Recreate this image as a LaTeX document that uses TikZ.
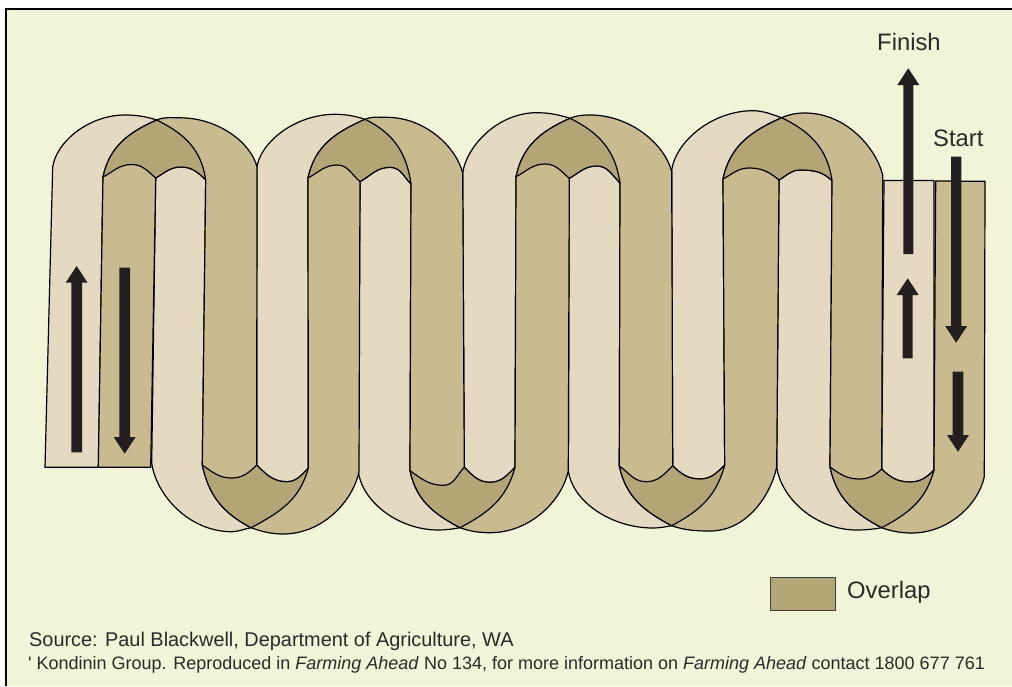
\documentclass[tikz,border=0pt]{standalone}
\usepackage{fontspec}
\setmainfont{Liberation Sans}
\newfontfamily\plainf{Liberation Sans}
\definecolor{bgc}{HTML}{F1F4D6}
\definecolor{lightb}{HTML}{E3DAC1}
\definecolor{darkb}{HTML}{C9BB8F}
\definecolor{overl}{HTML}{B4A576}
\definecolor{arrowc}{HTML}{231F20}
\definecolor{txt}{HTML}{2A2A2A}
\tikzset{
  band/.style={draw=black,line width=1.2pt,line join=round},
  arrowbody/.style={fill=arrowc,draw=none},
  lab/.style={text=txt,inner sep=0pt,anchor=base west},
  q1/.style={out looseness=0.72,in looseness=1.05},
  q2/.style={out looseness=1.05,in looseness=0.72},
  bq1/.style={out looseness=0.8,in looseness=1.02},
  bq2/.style={out looseness=1.02,in looseness=0.8},
  s1/.style={looseness=1.02},
}
% top arch segments
\def\TLO#1{to[out=82,in=180,q1] (t#1b) to[out=0,in=162,looseness=.9] (t#1x) to[out=-26,in=98,s1] (t#1c)}
\def\TDa#1{to[out=78,in=204,s1] (t#1x)}
\def\TLb#1{to[out=-26,in=98,s1] (t#1c)}
\def\TDb#1{to[out=24,in=180,looseness=.9] (t#1e) to[out=0,in=104,q2] (t#1f)}
\def\TLIr#1{to[out=140,in=0] (t#1g) to[out=180,in=28] (t#1d)}
\def\TDIr#1{to[out=135,in=0] (t#1i) to[out=180,in=30] (t#1h)}
% bottom arch segments
\def\BLOr#1{to[out=-105,in=28,s1] (b#1x) to[out=190,in=0,looseness=.9] (b#1b) to[out=180,in=-82,bq2] (b#1a)}
\def\BDa#1{to[out=-78,in=152,s1] (b#1x)}
\def\BLb#1{to[out=28,in=-105,s1] (b#1c)}
\def\BDr#1{to[out=-102,in=0,bq1] (b#1e) to[out=180,in=-20,looseness=.9] (b#1x) to[out=152,in=-78,s1] (b#1d)}
\def\BLI#1{to[out=-35,in=180] (b#1g) to[out=0,in=-135] (b#1h)}
\def\BDI#1{to[out=-45,in=180] (b#1i) to[out=0,in=-135] (b#1c)}
\def\BDIr#1{to[out=-135,in=0] (b#1i) to[out=180,in=-45] (b#1h)}
\def\BLIr#1{to[out=-135,in=0] (b#1g) to[out=180,in=-35] (b#1d)}
\newcommand\upArrow[6]{% xl xr ybottom ybase ytip hw
  \fill[arrowbody] (#1,#3) -- (#1,#4) -- ({(#1+#2)/2-#6},#4) -- ({(#1+#2)/2},#5) -- ({(#1+#2)/2+#6},#4) -- (#2,#4) -- (#2,#3) -- cycle;}
\begin{document}
\begin{tikzpicture}[x=1pt,y=-1pt]
\useasboundingbox (0,0) rectangle (1012,686);
\fill[white] (0,0) rectangle (1012,686);
\fill[bgc] (6,9) rectangle (1012,686);
\draw[black,line width=2.4pt] (6,686) -- (6,9) -- (1012,9);
% strip ends
\coordinate (s1) at (45,467.3); \coordinate (s2) at (98.3,467.3); \coordinate (s3) at (150.7,467.3);
\coordinate (e1) at (884,180.5); \coordinate (e2) at (934,180.5); \coordinate (e3) at (935.7,181); \coordinate (e4) at (985,181.3);
% top arches
\coordinate (t1a) at (52.7,167); \coordinate (t1b) at (125,115); \coordinate (t1x) at (156.7,120); \coordinate (t1c) at (205.7,180);
\coordinate (t1d) at (103,177); \coordinate (t1e) at (180,117.8); \coordinate (t1f) at (257,167);
\coordinate (t1g) at (131.7,164.5); \coordinate (t1h) at (155.7,178); \coordinate (t1i) at (181,167);
\coordinate (t2a) at (256.7,168); \coordinate (t2b) at (335,114.3); \coordinate (t2x) at (365,119.3); \coordinate (t2c) at (411,184);
\coordinate (t2d) at (308,178); \coordinate (t2e) at (386.7,117.3); \coordinate (t2f) at (462.7,173);
\coordinate (t2g) at (337,165); \coordinate (t2h) at (360,181.7); \coordinate (t2i) at (390,167.3);
\coordinate (t3a) at (462.7,173); \coordinate (t3b) at (536.7,112.7); \coordinate (t3x) at (570,118.3); \coordinate (t3c) at (620,183);
\coordinate (t3d) at (516,176.7); \coordinate (t3e) at (590,115); \coordinate (t3f) at (671.7,171.7);
\coordinate (t3g) at (545,164); \coordinate (t3h) at (569.3,178.3); \coordinate (t3i) at (596.7,166);
\coordinate (t4a) at (671.7,170); \coordinate (t4b) at (753,110.7); \coordinate (t4x) at (781.7,117.7); \coordinate (t4c) at (832,180.7);
\coordinate (t4d) at (723,179); \coordinate (t4e) at (805,113); \coordinate (t4f) at (882.7,175);
\coordinate (t4g) at (749,168); \coordinate (t4h) at (779,180); \coordinate (t4i) at (800,170);
% bottom arches
\coordinate (b1a) at (151.7,463); \coordinate (b1b) at (231.7,531.7); \coordinate (b1x) at (251,527.7); \coordinate (b1c) at (308.3,468);
\coordinate (b1d) at (202.3,465); \coordinate (b1e) at (283,534); \coordinate (b1f) at (359,471.7);
\coordinate (b1g) at (231.7,478); \coordinate (b1h) at (256.7,465); \coordinate (b1i) at (286.7,481.7);
\coordinate (b2a) at (358.3,471.7); \coordinate (b2b) at (438.3,530); \coordinate (b2x) at (460,527.7); \coordinate (b2c) at (515,467.3);
\coordinate (b2d) at (410,470.7); \coordinate (b2e) at (490,532.7); \coordinate (b2f) at (568.3,470.7);
\coordinate (b2g) at (443.3,485.3); \coordinate (b2h) at (464.3,467.3); \coordinate (b2i) at (490,482.3);
\coordinate (b3a) at (568.3,470.7); \coordinate (b3b) at (653,528); \coordinate (b3x) at (671.7,525.7); \coordinate (b3c) at (724.7,465);
\coordinate (b3d) at (619.3,466); \coordinate (b3e) at (710,531); \coordinate (b3f) at (776.7,467);
\coordinate (b3g) at (646,481.7); \coordinate (b3h) at (672.7,465.7); \coordinate (b3i) at (700,479);
\coordinate (b4a) at (776.7,467); \coordinate (b4b) at (856.7,530); \coordinate (b4x) at (881.7,527.7); \coordinate (b4c) at (934,470);
\coordinate (b4d) at (830,467); \coordinate (b4e) at (911.7,533); \coordinate (b4f) at (984.3,476.7);
\coordinate (b4g) at (859,479); \coordinate (b4h) at (881.7,469); \coordinate (b4i) at (910,482);
% light band
\draw[band,fill=lightb] (s1) -- (t1a) \TLO1 -- (b1d) \BLI1 -- (t2a) \TLO2 -- (b2d) \BLI2 -- (t3a) \TLO3 -- (b3d) \BLI3 -- (t4a) \TLO4 -- (b4d) \BLI4 -- (e1) -- (e2)
 -- (b4c) \BLOr4 -- (t4h) \TLIr4 -- (b3c) \BLOr3 -- (t3h) \TLIr3 -- (b2c) \BLOr2 -- (t2h) \TLIr2 -- (b1c) \BLOr1 -- (t1h) \TLIr1 -- (s2) -- cycle;
% dark band
\draw[band,fill=darkb] (s2) -- (t1d) \TDa1 \TDb1 -- (b1h) \BDI1 -- (t2d) \TDa2 \TDb2 -- (b2h) \BDI2 -- (t3d) \TDa3 \TDb3 -- (b3h) \BDI3 -- (t4d) \TDa4 \TDb4 -- (b4h) \BDI4 -- (e3) -- (e4)
 -- (b4f) \BDr4 -- (t4c) \TDIr4 -- (b3f) \BDr3 -- (t3c) \TDIr3 -- (b2f) \BDr2 -- (t2c) \TDIr2 -- (b1f) \BDr1 -- (t1c) \TDIr1 -- (s3) -- cycle;
% overlaps
\foreach \k in {1,2,3,4}{
  \draw[band,fill=overl] (t\k d) \TDa\k \TLb\k \TDIr\k \TLIr\k -- cycle;
  \draw[band,fill=overl] (b\k d) \BDa\k \BLb\k \BDIr\k \BLIr\k -- cycle;
}
% arrows
\upArrow{903.3}{913.3}{254}{85}{68.3}{11}
\upArrow{951}{961.3}{156.7}{326}{342.7}{11}
\upArrow{902.7}{912.7}{358.3}{295}{278.3}{11}
\upArrow{952.7}{963.3}{371.7}{435}{451.7}{11}
\upArrow{71.3}{82}{452.3}{282.7}{266}{11}
\upArrow{119.3}{130}{267.7}{437}{453.7}{11}
% legend and text
\node[draw=black!75,line width=1pt,fill=overl,minimum width=65pt,minimum height=33.5pt,inner sep=0pt] (leg) at (802.5,594) {};
\node[lab,font=\fontsize{23.8pt}{25pt}\selectfont] (fin) at (877,50) {Finish};
\node[lab,font=\fontsize{23.8pt}{25pt}\selectfont] (sta) at (933,146) {Start};
\node[lab,font=\fontsize{23.8pt}{25pt}\selectfont] (ove) at (847,598) {Overlap};
\node[lab,font=\fontsize{19.9pt}{21pt}\selectfont] (src) at (29,646) {Source: Paul Blackwell, Department of Agriculture, WA};
\node[lab,font=\fontsize{18pt}{19pt}\selectfont] (cop) at (28,669) {{\plainf\char39} Kondinin Group. Reproduced in \textit{Farming Ahead} No 134, for more information on \textit{Farming Ahead} contact 1800 677 761};
\end{tikzpicture}
\end{document}
